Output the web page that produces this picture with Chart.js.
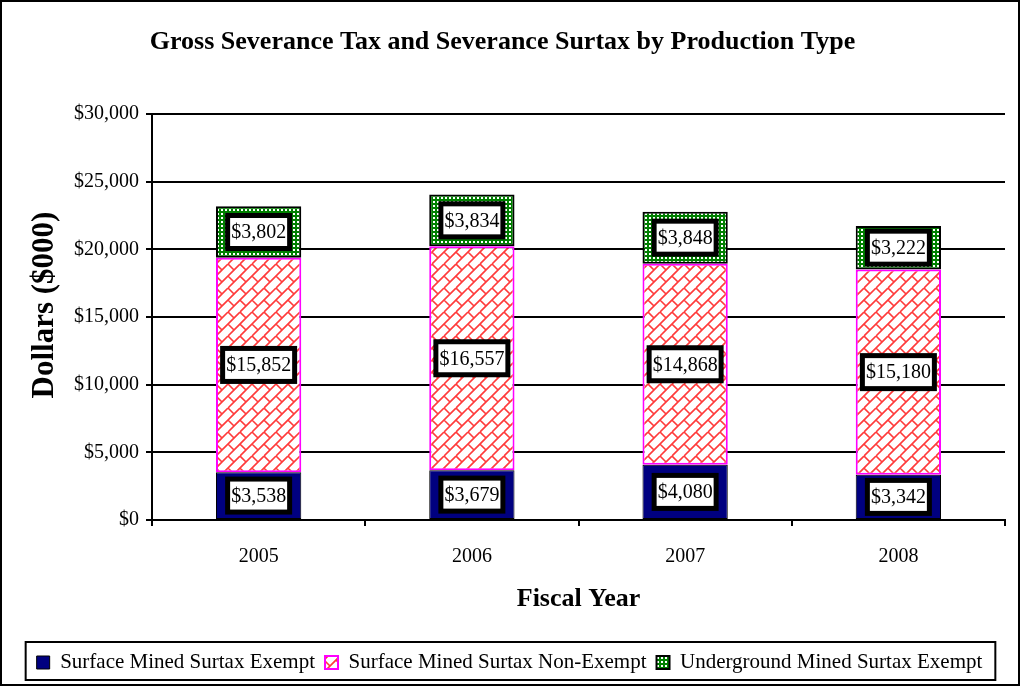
<!DOCTYPE html>
<html>
<head>
<meta charset="utf-8">
<title>Gross Severance Tax and Severance Surtax</title>
<script src="https://cdn.jsdelivr.net/npm/chart.js@4.4.1/dist/chart.umd.min.js"></script>
<style>
    body { margin: 0; background: #fff; }
    canvas { display: block; }
</style>
</head>
<body>
<canvas id="myChart" width="1021" height="687"></canvas>
<script>
const SERIF = '"Liberation Serif", "Times New Roman", serif';

let fiscalYears = ['2005', '2006', '2007', '2008'];
let surfaceExempt = [3538, 3679, 4080, 3342];
let surfaceNonExempt = [15852, 16557, 14868, 15180];
let undergroundExempt = [3802, 3834, 3848, 3222];
let yTicks = [0, 5000, 10000, 15000, 20000, 25000, 30000];
let yTitle = 'Dollars ($000)';


/*---------------------------fill patterns---------------------------*/

function brickPattern() {
    let s = 12;
    let c = document.createElement('canvas');
    c.width = 2 * s;
    c.height = 2 * s;
    let g = c.getContext('2d');
    g.fillStyle = '#ffffff';
    g.fillRect(0, 0, c.width, c.height);
    g.strokeStyle = '#ff3b3b';
    g.lineWidth = 1.6;
    g.beginPath();
    // long "/" strokes
    for (let k = -4 * s; k <= 6 * s; k += s) {
        g.moveTo(k, 2 * s);
        g.lineTo(k + 2 * s, 0);
    }
    // short "\" links, alternating from band to band
    for (let c0 = -4 * s; c0 <= 6 * s; c0 += s) {
        let type = Math.abs(Math.round(c0 / s)) % 2;
        for (let d = -6 * s + type * s; d <= 6 * s; d += 2 * s) {
            g.moveTo((c0 + d) / 2, (c0 - d) / 2);
            g.lineTo((c0 + s + d) / 2, (c0 + s - d) / 2);
        }
    }
    g.stroke();
    return g.createPattern(c, 'repeat');
}

function checkerPattern() {
    let c = document.createElement('canvas');
    c.width = 4;
    c.height = 4;
    let g = c.getContext('2d');
    g.fillStyle = '#008000';
    g.fillRect(0, 0, 4, 4);
    g.fillStyle = '#ffffff';
    g.fillRect(1, 1, 2, 2);
    return g.createPattern(c, 'repeat');
}


/*---------------------------plugins---------------------------*/

const frame = {
    id: 'frame',
    afterLayout(chart) {
        // legend row sits a little right of the plot centre
        chart.legend.left += 7;
        chart.legend.right += 7;
    },
    beforeDraw(chart) {
        let ctx = chart.ctx;
        ctx.save();
        ctx.fillStyle = '#ffffff';
        ctx.fillRect(0, 0, chart.width, chart.height);
        ctx.strokeStyle = '#000000';
        ctx.lineWidth = 2;
        ctx.strokeRect(1, 1, chart.width - 3, chart.height - 3);
        ctx.restore();
    },
    afterDraw(chart) {
        let ctx = chart.ctx;
        // box around the legend row
        let boxes = chart.legend.legendHitBoxes;
        if (boxes && boxes.length) {
            let left = Math.min(...boxes.map(b => b.left)) - 11;
            let right = Math.max(...boxes.map(b => b.left + b.width)) + 13;
            let top = boxes[0].top - 10;
            let bottom = boxes[0].top + boxes[0].height + 7;
            ctx.save();
            ctx.strokeStyle = '#000000';
            ctx.lineWidth = 2;
            ctx.strokeRect(left, top, right - left, bottom - top);
            ctx.restore();
        }
        // rotated y axis title, sitting a bit above the plot middle
        ctx.save();
        ctx.translate(45, 305);
        ctx.rotate(-Math.PI / 2);
        ctx.font = 'bold 31px ' + SERIF;
        ctx.fillStyle = '#000000';
        ctx.textAlign = 'center';
        ctx.textBaseline = 'middle';
        ctx.fillText(yTitle, 0, 0);
        ctx.restore();
    }
};

const valueLabels = {
    id: 'valueLabels',
    afterDatasetsDraw(chart) {
        let ctx = chart.ctx;
        ctx.save();
        ctx.font = '20px ' + SERIF;
        ctx.textAlign = 'center';
        ctx.textBaseline = 'middle';
        chart.data.datasets.forEach((ds, i) => {
            chart.getDatasetMeta(i).data.forEach((bar, j) => {
                let text = '$' + ds.data[j].toLocaleString('en-US');
                let w = ctx.measureText(text).width + 2;
                let h = 28;
                let x = bar.x;
                let y = (bar.y + bar.base) / 2;
                ctx.fillStyle = '#000000';
                ctx.fillRect(x - w / 2 - 5, y - h / 2 - 5, w + 10, h + 10);
                ctx.fillStyle = '#ffffff';
                ctx.fillRect(x - w / 2, y - h / 2, w, h);
                ctx.fillStyle = '#000000';
                ctx.fillText(text, x, y + 1);
            });
        });
        ctx.restore();
    }
};


/*---------------------------chart---------------------------*/

const data = {
    labels: fiscalYears,
    datasets: [{
        label: 'Surface Mined Surtax Exempt',
        data: surfaceExempt,
        backgroundColor: '#000080',
        borderColor: '#000000',
        borderWidth: 1,
        borderSkipped: false
    }, {
        label: 'Surface Mined Surtax Non-Exempt',
        data: surfaceNonExempt,
        backgroundColor: brickPattern(),
        borderColor: '#ff00ff',
        borderWidth: 2,
        borderSkipped: false
    }, {
        label: 'Underground Mined Surtax Exempt',
        data: undergroundExempt,
        backgroundColor: checkerPattern(),
        borderColor: '#000000',
        borderWidth: 2,
        borderSkipped: false
    }]
};

const config = {
    type: 'bar',
    data: data,
    plugins: [frame, valueLabels],
    options: {
        responsive: false,
        animation: false,
        devicePixelRatio: 1,
        categoryPercentage: 1,
        barPercentage: 0.4,
        layout: {
            padding: { left: 0, right: 16, top: 0, bottom: 4 }
        },
        plugins: {
            tooltip: { enabled: false },
            title: {
                display: true,
                text: 'Gross Severance Tax and Severance Surtax by Production Type',
                color: '#000000',
                font: { family: SERIF, size: 26, weight: 'bold' },
                padding: { top: 27, bottom: 56 }
            },
            legend: {
                position: 'bottom',
                labels: {
                    color: '#000000',
                    font: { family: SERIF, size: 21 },
                    boxWidth: 13,
                    boxHeight: 13,
                    padding: 10
                }
            }
        },
        scales: {
            x: {
                stacked: true,
                afterFit: (scale) => { scale.height = 122; },
                grid: {
                    offset: true,
                    drawOnChartArea: false,
                    drawTicks: true,
                    tickLength: 6,
                    color: '#000000',
                    lineWidth: 2
                },
                border: { display: true, color: '#000000', width: 2 },
                ticks: {
                    color: '#000000',
                    font: { family: SERIF, size: 20 },
                    padding: 19
                },
                title: {
                    display: true,
                    text: 'Fiscal Year',
                    color: '#000000',
                    font: { family: SERIF, size: 26, weight: 'bold' },
                    padding: { top: 0, bottom: 27 }
                }
            },
            y: {
                stacked: true,
                min: 0,
                max: 30000,
                afterFit: (scale) => { scale.width = 152; },
                afterBuildTicks: (scale) => {
                    scale.ticks = yTicks.map(v => ({ value: v }));
                },
                grid: {
                    drawTicks: true,
                    tickLength: 6,
                    color: '#000000',
                    lineWidth: 2
                },
                border: { display: true, color: '#000000', width: 2 },
                ticks: {
                    color: '#000000',
                    font: { family: SERIF, size: 20 },
                    padding: 7,
                    callback: (v) => '$' + v.toLocaleString('en-US')
                }
            }
        }
    }
};

myChart = new Chart(document.getElementById('myChart'), config);
</script>
</body>
</html>
